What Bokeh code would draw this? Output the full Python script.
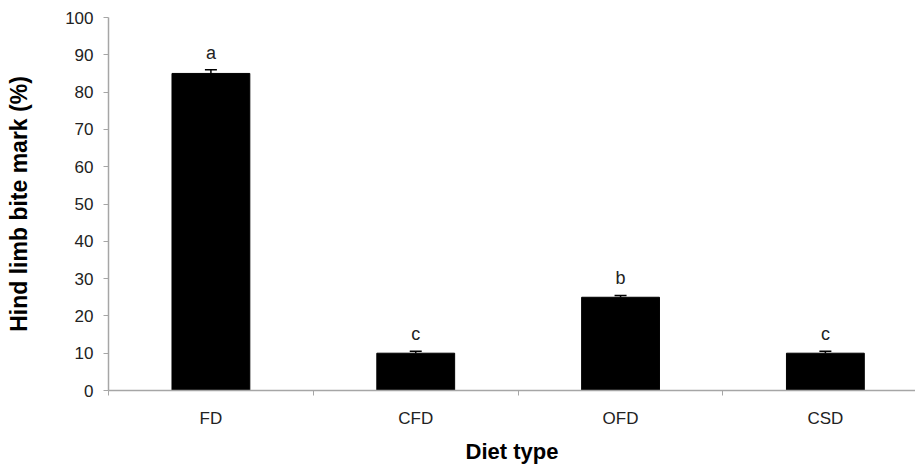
from bokeh.plotting import figure
from bokeh.models import Range1d, FixedTicker, SingleIntervalTicker, ColumnDataSource, Whisker, TeeHead
from bokeh.core.properties import value
from bokeh.embed import file_html
from bokeh.resources import INLINE

categories = ["FD", "CFD", "OFD", "CSD"]
means = [85, 10, 25, 10]
errors = [1.0, 0.5, 0.5, 0.5]
letters = ["a", "c", "b", "c"]

xs = list(range(1, len(categories) + 1))
upper = [m + e for m, e in zip(means, errors)]

src = ColumnDataSource(dict(x=xs, top=means, upper=upper, lower=means, letter=letters))

FONT = "Liberation Sans"
AXIS_GRAY = "#a6a6a6"

p = figure(width=915, height=466, x_range=Range1d(0.5, 4.44), y_range=Range1d(0, 100),
           output_backend="svg", toolbar_location=None,
           min_border_left=108, min_border_right=0, min_border_top=17, min_border_bottom=76)
p.outline_line_color = None
p.xgrid.visible = False
p.ygrid.visible = False

p.vbar(x="x", top="top", bottom=0, width=0.38, source=src, fill_color="black", line_color="black")

wh = Whisker(base="x", upper="upper", lower="lower", source=src, line_color="black", line_width=1.5,
             upper_head=TeeHead(size=12, line_color="black", line_width=1.5), lower_head=None)
p.add_layout(wh)

p.text(x="x", y="upper", text="letter", source=src, text_align="center", text_baseline="bottom",
       y_offset=-7, text_font=value(FONT), text_font_size="18px", text_color="#222222")

# x axis
p.xaxis.ticker = FixedTicker(ticks=xs, minor_ticks=[x - 0.5 for x in xs] + [xs[-1] + 0.5])
p.xaxis.major_label_overrides = {x: c for x, c in zip(xs, categories)}
p.xaxis.major_tick_line_color = None
p.xaxis.major_tick_out = 5
p.xaxis.major_tick_in = 0
p.xaxis.minor_tick_line_color = AXIS_GRAY
p.xaxis.minor_tick_out = 5
p.xaxis.minor_tick_in = 0
p.xaxis.axis_line_color = AXIS_GRAY
p.xaxis.axis_line_width = 1.5
p.xaxis.major_label_standoff = 13
p.xaxis.major_label_text_font = FONT
p.xaxis.major_label_text_font_size = "17px"
p.xaxis.major_label_text_color = "#222222"
p.xaxis.axis_label = "Diet type"
p.xaxis.axis_label_standoff = 8
p.xaxis.axis_label_text_font = FONT
p.xaxis.axis_label_text_font_size = "22px"
p.xaxis.axis_label_text_font_style = "bold"
p.xaxis.axis_label_text_color = "black"

# y axis
p.yaxis.ticker = SingleIntervalTicker(interval=10, num_minor_ticks=0)
p.yaxis.axis_line_color = AXIS_GRAY
p.yaxis.axis_line_width = 1.5
p.yaxis.major_tick_line_color = AXIS_GRAY
p.yaxis.major_tick_out = 5
p.yaxis.major_tick_in = 0
p.yaxis.minor_tick_line_color = None
p.yaxis.major_label_standoff = 10
p.yaxis.major_label_text_font = FONT
p.yaxis.major_label_text_font_size = "17px"
p.yaxis.major_label_text_color = "#222222"
p.yaxis.axis_label = "Hind limb bite mark (%)"
p.yaxis.axis_label_standoff = 30
p.yaxis.axis_label_text_font = FONT
p.yaxis.axis_label_text_font_size = "23px"
p.yaxis.axis_label_text_font_style = "bold"
p.yaxis.axis_label_text_color = "black"

open("out.html", "w").write(file_html(p, INLINE))
